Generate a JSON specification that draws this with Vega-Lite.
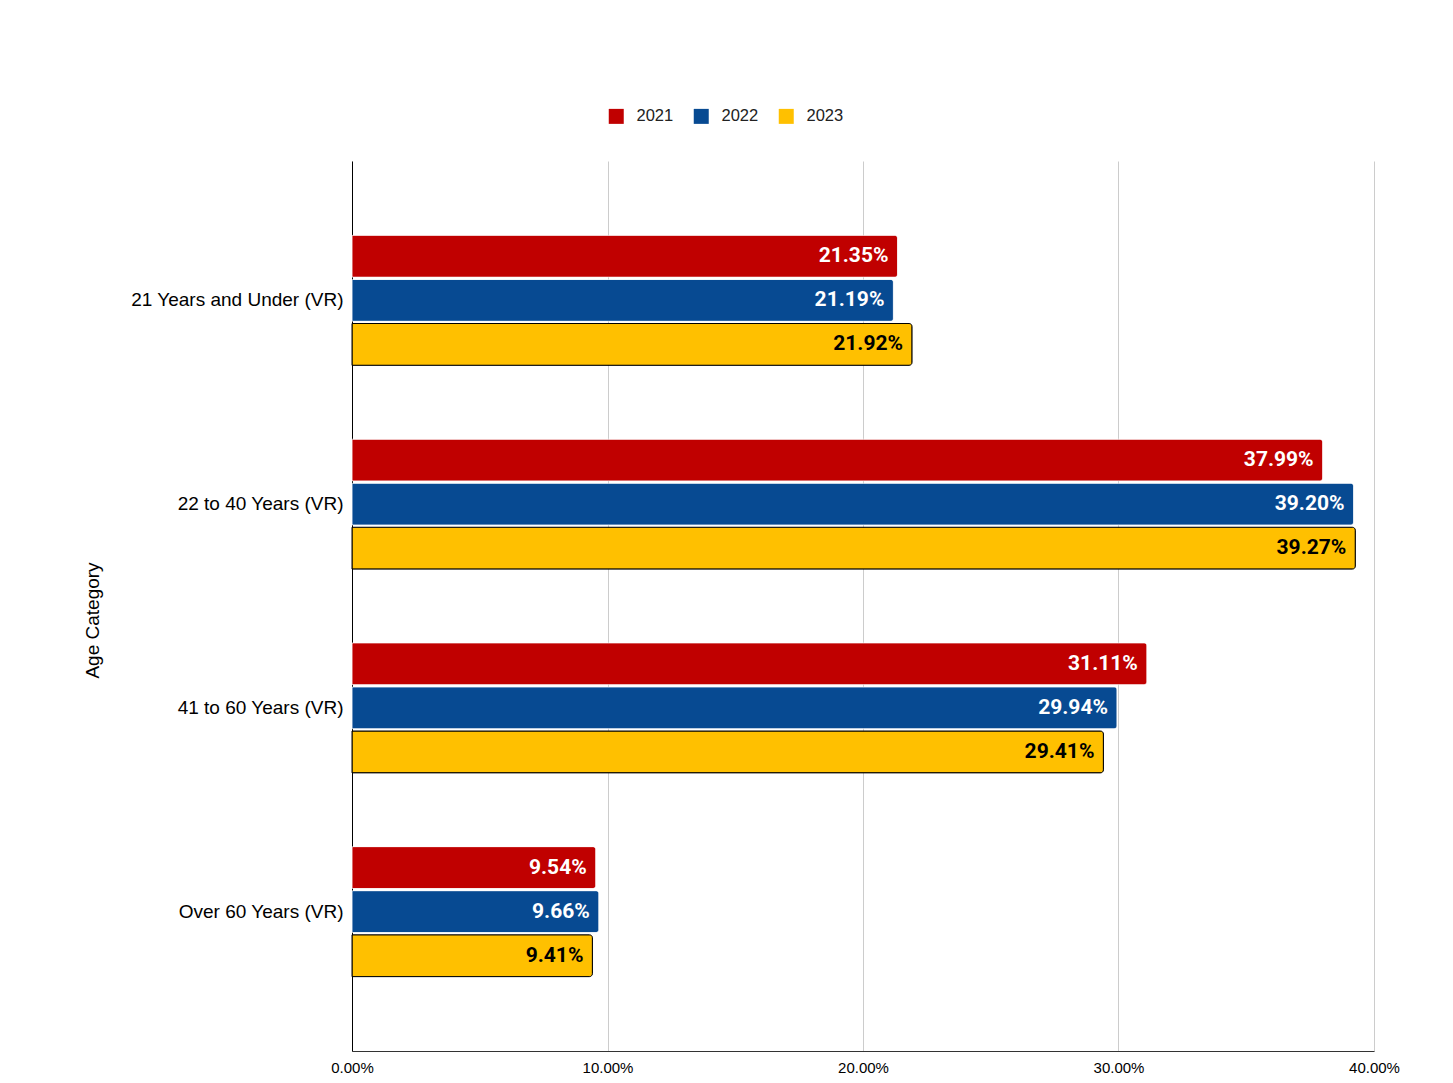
{
  "$schema": "https://vega.github.io/schema/vega-lite/v6.json",
  "width": 1022,
  "height": 890,
  "autosize": {"type": "none"},
  "padding": {"left": 352, "top": 161, "right": 79, "bottom": 32},
  "background": "white",
  "config": {"view": {"stroke": null}},
  "data": {
    "values": [
      {"age": "21 Years and Under (VR)", "year": "2021", "share": 0.2135},
      {"age": "21 Years and Under (VR)", "year": "2022", "share": 0.2119},
      {"age": "21 Years and Under (VR)", "year": "2023", "share": 0.2192},
      {"age": "22 to 40 Years (VR)", "year": "2021", "share": 0.3799},
      {"age": "22 to 40 Years (VR)", "year": "2022", "share": 0.3920},
      {"age": "22 to 40 Years (VR)", "year": "2023", "share": 0.3927},
      {"age": "41 to 60 Years (VR)", "year": "2021", "share": 0.3111},
      {"age": "41 to 60 Years (VR)", "year": "2022", "share": 0.2994},
      {"age": "41 to 60 Years (VR)", "year": "2023", "share": 0.2941},
      {"age": "Over 60 Years (VR)", "year": "2021", "share": 0.0954},
      {"age": "Over 60 Years (VR)", "year": "2022", "share": 0.0966},
      {"age": "Over 60 Years (VR)", "year": "2023", "share": 0.0941}
    ]
  },
  "encoding": {
    "y": {
      "field": "age", "type": "nominal", "sort": null,
      "scale": {"paddingInner": 0.362, "paddingOuter": 0.365},
      "axis": {
        "title": "Age Category", "titleFont": "Liberation Sans", "titleFontSize": 19, "titleFontWeight": "normal",
        "titleColor": "#000", "titlePadding": 50, "titleY": 459,
        "labelFont": "Liberation Sans", "labelFontSize": 19, "labelColor": "#000", "labelPadding": 9, "labelLimit": 0,
        "ticks": false, "domainColor": "#000", "domainWidth": 1, "grid": false
      }
    },
    "yOffset": {"field": "year", "type": "nominal", "scale": {"paddingInner": 0.05, "paddingOuter": 0}},
    "x": {
      "field": "share", "type": "quantitative",
      "scale": {"domain": [0, 0.4], "nice": false},
      "axis": {
        "title": null, "format": ".2%", "values": [0, 0.1, 0.2, 0.3, 0.4], "labelFlush": false,
        "labelFont": "Liberation Sans", "labelFontSize": 15, "labelColor": "#000", "labelPadding": 9,
        "ticks": false, "domainColor": "#333", "grid": true, "gridColor": "#cccccc", "gridWidth": 1
      }
    }
  },
  "layer": [
    {
      "mark": {"type": "bar", "cornerRadiusEnd": 3},
      "encoding": {
        "color": {
          "field": "year", "type": "nominal",
          "scale": {"domain": ["2021", "2022", "2023"], "range": ["#c00000", "#074a92", "#ffc000"]},
          "legend": {
            "title": null, "orient": "none", "direction": "horizontal", "legendX": 256, "legendY": -53,
            "symbolType": "square", "symbolSize": 225, "symbolStrokeWidth": 0,
            "labelFont": "Liberation Sans", "labelFontSize": 16.5, "labelColor": "#222",
            "labelOffset": 12, "columnPadding": 19
          }
        },
        "stroke": {"condition": {"test": "datum.year === '2023'", "value": "#000000"}, "value": "#ffffff"},
        "strokeWidth": {"condition": {"test": "datum.year === '2023'", "value": 1}, "value": 0.5}
      }
    },
    {
      "mark": {"type": "text", "align": "right", "baseline": "middle", "dx": -9, "font": "Roboto", "fontWeight": "bold", "fontSize": 21},
      "encoding": {
        "text": {"field": "share", "type": "quantitative", "format": ".2%"},
        "color": {"condition": {"test": "datum.year === '2023'", "value": "#000000"}, "value": "#ffffff"}
      }
    }
  ]
}
